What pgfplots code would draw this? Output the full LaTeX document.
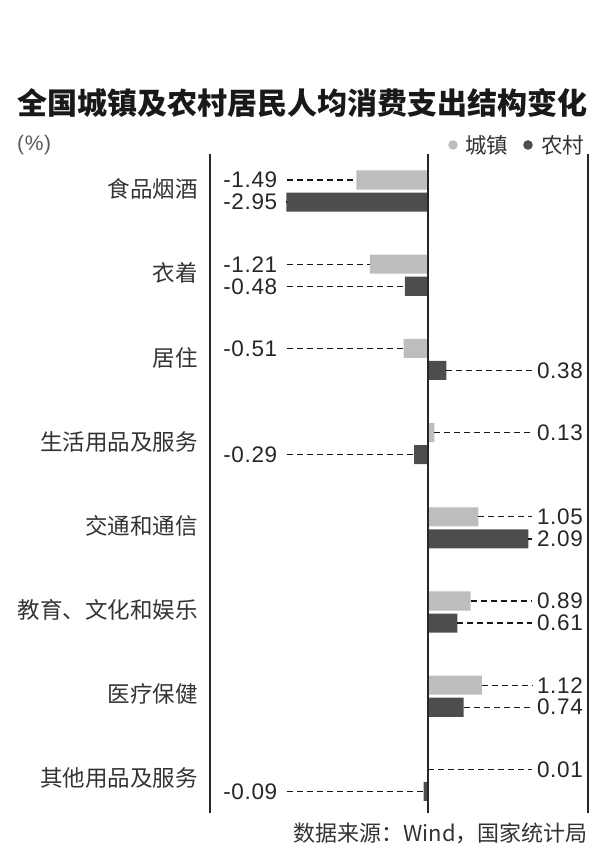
\documentclass[border=0pt]{standalone}
\usepackage{pgfplots}
\pgfplotsset{compat=1.18}
\usepackage{pgfplotstable}
\usetikzlibrary{calc}
\usepackage{fontspec}
\setmainfont{Noto Sans CJK SC}
\newfontfamily\numfont[LetterSpace=3]{Liberation Sans}

\definecolor{urbancol}{HTML}{BDBDBD}
\definecolor{ruralcol}{HTML}{4D4D4D}
\definecolor{txt}{HTML}{333333}

% k: category index (0 = bottom), values in %
\pgfplotstableread{
k urban rural
7 -1.49 -2.95
6 -1.21 -0.48
5 -0.51 0.38
4 0.13 -0.29
3 1.05 2.09
2 0.89 0.61
1 1.12 0.74
0 0.01 -0.09
}\datatable

\tikzset{
  leader/.style={black!90, line width=1.3pt, dash pattern=on 6pt off 4pt},
  numlab/.style={font=\numfont\fontsize{22.5}{22.5}\selectfont, text=black!85, inner sep=0pt},
}
% negative value label on the left, positive on the right
\newcommand\neglab[3]{%
  \addplot[leader, forget plot] coordinates {(-2.94,#1) (#2,#1)};
  \node[numlab, anchor=west] at (axis cs:-4.27,#1) {#3};}
\newcommand\poslab[3]{%
  \addplot[leader, forget plot] coordinates {(#2,#1) (2.17,#1)};
  \node[numlab, anchor=east] at (axis cs:3.23,#1) {#3};}

\begin{document}
\begin{tikzpicture}[x=1pt,y=1pt]
\begin{axis}[
  name=ax, at={(0,0)}, anchor=south west,
  scale only axis, width=378pt, height=659pt,
  xmin=-4.542, xmax=3.333, ymin=-0.387, ymax=7.44,
  axis x line=none,
  axis y line*=left,
  y axis line style={draw=none},
  xtick=\empty,
  ytick={0,...,7},
  yticklabels={其他用品及服务,医疗保健,教育、文化和娱乐,交通和通信,生活用品及服务,居住,衣着,食品烟酒},
  major tick length=0pt,
  yticklabel style={font=\fontsize{22.5}{22.5}\selectfont, text=txt, inner sep=0pt, xshift=-12pt, yshift=2pt},
  clip=false,
]
\addplot[xbar, bar width=0.226, bar shift=0pt, fill=urbancol, draw=none]
  table[x=urban, y expr=\thisrow{k}+0.131] {\datatable};
\addplot[xbar, bar width=0.226, bar shift=0pt, fill=ruralcol, draw=none]
  table[x=rural, y expr=\thisrow{k}-0.131] {\datatable};

\draw[line width=1.6pt, black!85] (rel axis cs:0,0) -- (rel axis cs:0,1);
\draw[line width=1.6pt, black!85] (rel axis cs:1,0) -- (rel axis cs:1,1);
\draw[line width=1.6pt, black!85] (axis cs:0,-0.387) -- (axis cs:0,7.44);

\neglab{7.131}{-1.49}{-1.49}
\neglab{6.869}{-2.95}{-2.95}
\neglab{6.131}{-1.21}{-1.21}
\neglab{5.869}{-0.48}{-0.48}
\neglab{5.131}{-0.51}{-0.51}
\poslab{4.869}{0.38}{0.38}
\poslab{4.131}{0.13}{0.13}
\neglab{3.869}{-0.29}{-0.29}
\poslab{3.131}{1.05}{1.05}
\poslab{2.869}{2.09}{2.09}
\poslab{2.131}{0.89}{0.89}
\poslab{1.869}{0.61}{0.61}
\poslab{1.131}{1.12}{1.12}
\poslab{0.869}{0.74}{0.74}
\poslab{0.131}{0.01}{0.01}
\neglab{-0.131}{-0.09}{-0.09}
\end{axis}

% page coordinates: origin at the bottom left of the 600 x 859 picture
\begin{scope}[shift={($(ax.south west)+(-210,-46)$)}]
\node[anchor=west, inner sep=0pt, text=black!90] at (17,756)
  {\fontsize{30}{30}\selectfont\bfseries 全国城镇及农村居民人均消费支出结构变化};
\node[anchor=west, inner sep=0pt, text=black!65] at (17,714)
  {\numfont\fontsize{21}{21}\selectfont (\%)};
\fill[urbancol] (453,714) circle (4.8);
\node[anchor=west, inner sep=0pt, text=txt] at (465,714) {\fontsize{21.5}{21.5}\selectfont 城镇};
\fill[ruralcol] (528,714) circle (4.8);
\node[anchor=west, inner sep=0pt, text=txt] at (541,714) {\fontsize{21.5}{21.5}\selectfont 农村};
\node[anchor=east, inner sep=0pt, text=txt] at (588,26)
  {\fontsize{22}{22}\selectfont 数据来源：Wind，国家统计局};
\end{scope}

\pgfresetboundingbox
\path[use as bounding box] ($(ax.south west)+(-210,-46)$) rectangle +(600,859);
\end{tikzpicture}
\end{document}
